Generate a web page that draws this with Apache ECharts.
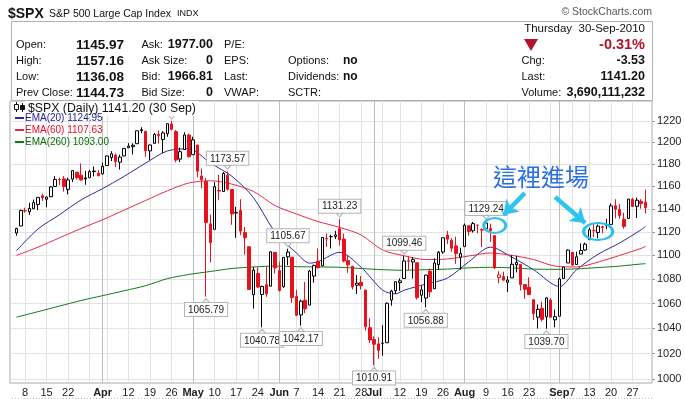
<!DOCTYPE html>
<html>
<head>
<meta charset="utf-8">
<script src="https://cdn.jsdelivr.net/npm/echarts@6/dist/echarts.min.js"></script>
<style>
html, body { margin: 0; padding: 0; background: #fff; }
#chart { width: 685px; height: 399px; }
</style>
</head>
<body>
<div id="chart"></div>
<script>
const chart = echarts.init(document.getElementById("chart"));

const FONT = '"Liberation Sans", Arial, sans-serif';
const RED = "#e8121e";

// trading days per month, 2010
const monthNames = ["Mar", "Apr", "May", "Jun", "Jul", "Aug", "Sep"];
const marDays = [4, 5, 8, 9, 10, 11, 12, 15, 16, 17, 18, 19, 22, 23, 24, 25, 26, 29, 30, 31];
const aprDays = [1, 5, 6, 7, 8, 9, 12, 13, 14, 15, 16, 19, 20, 21, 22, 23, 26, 27, 28, 29, 30];
const mayDays = [3, 4, 5, 6, 7, 10, 11, 12, 13, 14, 17, 18, 19, 20, 21, 24, 25, 26, 27, 28];
const junDays = [1, 2, 3, 4, 7, 8, 9, 10, 11, 14, 15, 16, 17, 18, 21, 22, 23, 24, 25, 28, 29, 30];
const julDays = [1, 2, 6, 7, 8, 9, 12, 13, 14, 15, 16, 19, 20, 21, 22, 23, 26, 27, 28, 29, 30];
const augDays = [2, 3, 4, 5, 6, 9, 10, 11, 12, 13, 16, 17, 18, 19, 20, 23, 24, 25, 26, 27, 30, 31];
const sepDays = [1, 2, 3, 7, 8, 9, 10, 13, 14, 15, 16, 17, 20, 21, 22, 23, 24, 27, 28, 29, 30];

// [open, high, low, close]
const marOhlc = [
	[1119.12, 1123.73, 1116.66, 1122.97], [1125.12, 1139.38, 1125.12, 1138.70], [1138.40, 1141.05, 1136.77, 1138.50],
	[1137.56, 1145.37, 1134.90, 1140.45], [1140.22, 1148.26, 1140.09, 1145.61], [1143.96, 1150.24, 1138.99, 1150.24],
	[1151.71, 1153.41, 1146.97, 1149.99], [1148.53, 1150.98, 1141.45, 1150.51], [1150.83, 1160.28, 1150.35, 1159.46],
	[1159.94, 1169.20, 1159.94, 1166.21], [1166.13, 1167.77, 1161.16, 1165.83], [1166.68, 1169.20, 1155.33, 1159.90],
	[1157.25, 1167.82, 1152.88, 1165.81], [1166.47, 1174.72, 1163.83, 1174.17], [1172.70, 1173.04, 1166.01, 1167.72],
	[1170.03, 1180.69, 1165.09, 1165.73], [1167.58, 1173.93, 1161.48, 1166.59], [1167.71, 1174.85, 1167.71, 1173.22],
	[1173.75, 1177.83, 1168.92, 1173.27], [1171.75, 1174.56, 1169.15, 1169.43]
];
const aprOhlc = [
	[1171.23, 1181.43, 1170.69, 1178.10], [1178.71, 1187.73, 1178.71, 1187.44], [1186.01, 1191.80, 1182.77, 1189.44],
	[1188.23, 1189.60, 1177.25, 1182.45], [1181.75, 1188.55, 1175.12, 1186.44], [1187.47, 1194.66, 1187.15, 1194.37],
	[1194.94, 1199.20, 1194.71, 1196.48], [1195.94, 1199.04, 1188.82, 1197.30], [1198.69, 1210.65, 1198.69, 1210.65],
	[1210.77, 1213.92, 1208.50, 1211.67], [1210.17, 1210.17, 1186.77, 1192.13], [1192.06, 1197.87, 1183.68, 1197.52],
	[1199.04, 1208.58, 1199.04, 1207.17], [1207.16, 1210.99, 1198.85, 1205.94], [1202.52, 1210.27, 1190.19, 1208.67],
	[1207.87, 1217.28, 1205.10, 1217.28], [1217.07, 1219.80, 1211.07, 1212.05], [1209.92, 1211.38, 1181.62, 1183.71],
	[1184.59, 1195.05, 1181.81, 1191.36], [1193.30, 1209.36, 1193.30, 1206.78], [1206.77, 1207.99, 1186.32, 1186.69]
];
const mayOhlc = [
	[1188.58, 1205.13, 1188.58, 1202.26], [1197.50, 1197.50, 1168.12, 1173.60], [1169.24, 1175.95, 1158.15, 1165.90],
	[1164.38, 1167.58, 1065.79, 1128.15], [1127.04, 1135.13, 1094.15, 1110.88], [1122.27, 1163.85, 1122.27, 1159.73],
	[1156.39, 1170.48, 1147.71, 1155.79], [1155.43, 1172.87, 1155.43, 1171.67], [1170.04, 1173.57, 1156.14, 1157.44],
	[1157.19, 1157.19, 1126.14, 1135.68], [1136.52, 1141.88, 1114.96, 1136.94], [1138.78, 1148.66, 1117.20, 1120.80],
	[1119.57, 1124.27, 1100.66, 1115.05], [1107.34, 1107.34, 1071.58, 1071.59], [1067.26, 1090.16, 1055.90, 1087.69],
	[1084.78, 1089.95, 1072.70, 1073.65], [1067.42, 1074.75, 1040.78, 1074.03], [1075.51, 1090.75, 1065.59, 1067.95],
	[1074.27, 1103.52, 1074.27, 1103.06], [1102.59, 1102.59, 1084.78, 1089.41]
];
const junOhlc = [
	[1087.30, 1094.77, 1069.89, 1070.71], [1073.89, 1098.42, 1072.94, 1098.38], [1098.82, 1105.67, 1091.81, 1102.83],
	[1098.43, 1098.43, 1060.50, 1064.88], [1065.84, 1071.36, 1049.86, 1050.47], [1050.81, 1063.15, 1042.17, 1062.00],
	[1062.75, 1077.74, 1052.25, 1055.69], [1058.77, 1087.85, 1058.77, 1086.84], [1082.65, 1092.25, 1077.12, 1091.60],
	[1095.00, 1105.91, 1089.03, 1089.63], [1091.21, 1115.59, 1091.21, 1115.23], [1114.02, 1118.74, 1107.13, 1114.61],
	[1115.98, 1117.72, 1105.87, 1116.04], [1116.16, 1121.01, 1113.93, 1117.51], [1122.79, 1131.23, 1108.24, 1113.20],
	[1113.90, 1118.50, 1094.18, 1095.31], [1095.57, 1099.64, 1085.31, 1092.04], [1090.93, 1090.93, 1071.60, 1073.69],
	[1075.10, 1083.56, 1067.89, 1076.76], [1077.50, 1082.60, 1071.45, 1074.57], [1071.10, 1071.10, 1038.38, 1041.24],
	[1040.56, 1048.08, 1028.33, 1030.71]
];
const julOhlc = [
	[1031.10, 1033.58, 1010.91, 1027.37], [1027.65, 1032.95, 1015.93, 1022.58], [1028.09, 1042.50, 1018.35, 1028.06],
	[1028.54, 1060.89, 1028.54, 1060.27], [1062.92, 1071.25, 1058.24, 1070.25], [1070.50, 1078.16, 1068.10, 1077.96],
	[1077.23, 1080.78, 1070.45, 1078.75], [1080.65, 1099.46, 1080.65, 1095.34], [1095.61, 1099.08, 1087.68, 1095.17],
	[1094.46, 1098.66, 1080.53, 1096.48], [1093.85, 1093.85, 1063.32, 1064.88], [1066.85, 1074.70, 1061.11, 1071.25],
	[1064.53, 1083.94, 1056.88, 1083.48], [1086.67, 1088.96, 1065.25, 1069.59], [1072.14, 1097.50, 1072.14, 1093.67],
	[1092.17, 1103.73, 1087.88, 1102.66], [1102.89, 1115.01, 1101.30, 1115.01], [1117.36, 1120.95, 1109.78, 1113.84],
	[1112.84, 1114.66, 1103.11, 1106.13], [1108.07, 1115.90, 1092.82, 1101.53], [1098.44, 1106.44, 1088.01, 1101.60]
];
const augOhlc = [
	[1107.53, 1127.30, 1107.53, 1125.86], [1125.34, 1125.44, 1116.76, 1120.46], [1121.06, 1128.75, 1119.46, 1127.24],
	[1125.78, 1126.56, 1118.81, 1125.81], [1122.07, 1123.06, 1107.17, 1121.64], [1122.80, 1129.24, 1120.91, 1127.79],
	[1122.92, 1127.16, 1111.58, 1121.06], [1116.89, 1116.89, 1088.55, 1089.47], [1081.48, 1086.72, 1076.69, 1083.61],
	[1082.22, 1086.25, 1079.00, 1079.25], [1077.49, 1082.62, 1069.49, 1079.38], [1081.16, 1100.14, 1081.16, 1092.54],
	[1092.08, 1099.77, 1085.76, 1094.16], [1092.44, 1092.44, 1070.66, 1075.63], [1075.63, 1075.63, 1063.91, 1071.69],
	[1073.36, 1081.58, 1067.08, 1067.36], [1063.20, 1063.20, 1046.68, 1051.87], [1048.98, 1059.38, 1039.83, 1055.33],
	[1056.28, 1061.45, 1045.40, 1047.22], [1049.27, 1065.21, 1039.70, 1064.59], [1062.90, 1064.40, 1048.79, 1048.92],
	[1046.88, 1055.14, 1040.88, 1049.33]
];
const sepOhlc = [
	[1049.72, 1081.30, 1049.72, 1080.29], [1080.66, 1090.10, 1080.39, 1090.10], [1093.61, 1105.10, 1093.61, 1104.51],
	[1102.60, 1102.60, 1091.15, 1091.84], [1092.36, 1103.26, 1092.36, 1098.87], [1101.15, 1110.27, 1101.15, 1104.18],
	[1104.57, 1110.88, 1103.92, 1109.55], [1113.38, 1123.87, 1113.38, 1121.90], [1121.16, 1127.36, 1115.58, 1121.10],
	[1119.43, 1126.46, 1114.63, 1125.07], [1123.89, 1125.44, 1118.88, 1124.66], [1126.39, 1131.47, 1122.43, 1125.59],
	[1126.57, 1144.86, 1126.57, 1142.71], [1142.82, 1148.59, 1131.87, 1139.78], [1139.49, 1144.38, 1131.58, 1134.28],
	[1131.10, 1136.77, 1122.79, 1124.83], [1131.69, 1148.90, 1131.69, 1148.67], [1148.64, 1149.92, 1142.00, 1142.16],
	[1142.31, 1150.00, 1132.09, 1147.70], [1146.75, 1148.63, 1140.26, 1144.73], [1145.97, 1157.16, 1136.08, 1141.20]
];

const ema20Idx = [0, 5, 10, 15, 20, 25, 30, 35, 40, 45, 50, 55, 60, 65, 68, 70, 75, 80, 85, 88, 90, 95, 100, 105, 110, 115, 120, 126, 130, 135, 140, 145, 146];
const ema20Val = [1104, 1122.6, 1135, 1148, 1158, 1169, 1181, 1192, 1194, 1181, 1169, 1150, 1120, 1102, 1093.5, 1094.7, 1102.6, 1090, 1071, 1068, 1071, 1076, 1081, 1094.7, 1107, 1098.5, 1088, 1074, 1088, 1101, 1110.6, 1122, 1124.95];
const emaIdx = [0, 5, 10, 15, 20, 25, 30, 35, 40, 45, 50, 55, 60, 65, 70, 75, 80, 85, 90, 95, 100, 105, 110, 115, 120, 125, 130, 135, 140, 145, 146];
const ema60Val = [1100, 1107, 1115, 1123, 1130.6, 1139, 1147.5, 1156, 1163, 1165, 1162, 1155.5, 1143, 1135.6, 1129, 1124, 1117.4, 1104.5, 1099.7, 1096.5, 1097, 1099.5, 1102, 1100, 1096.5, 1091, 1090.3, 1094.4, 1100, 1106, 1107.63];
const ema260Val = [1049, 1053.4, 1058, 1062.5, 1066.5, 1070.5, 1074.7, 1080.5, 1084, 1086.5, 1089, 1090.3, 1091, 1090.5, 1090.3, 1090, 1089, 1088, 1087.5, 1088, 1088.5, 1089.5, 1090, 1089.5, 1088.5, 1088.3, 1088.7, 1089.8, 1091, 1092.8, 1093.00];

// axis ticks
const yTicks = [1000, 1020, 1040, 1060, 1080, 1100, 1120, 1140, 1160, 1180, 1200, 1220];
const monthTickDates = ["Apr 1", "May 3", "Jun 1", "Jul 1", "Aug 2", "Sep 1"];
const weekTickDates = ["Mar 8", "Mar 15", "Mar 22", "Mar 29", "Apr 5", "Apr 12", "Apr 19", "Apr 26", "May 10", "May 17", "May 24",
	"Jun 7", "Jun 14", "Jun 21", "Jun 28", "Jul 6", "Jul 12", "Jul 19", "Jul 26", "Aug 9", "Aug 16", "Aug 23", "Aug 30",
	"Sep 7", "Sep 13", "Sep 20", "Sep 27"];
const hiddenTickLabels = ["Mar 29", "Apr 5", "Jul 6", "Aug 30"];

// price callouts
const swingHighs = [["Apr 26", 1219.80], ["May 13", 1173.57], ["Jun 3", 1105.67], ["Jun 21", 1131.23], ["Jul 13", 1099.46], ["Aug 9", 1129.24]];
const swingLows = [["May 6", 1065.79], ["May 25", 1040.78], ["Jun 8", 1042.17], ["Jul 1", 1010.91], ["Jul 20", 1056.88], ["Aug 27", 1039.70]];

// hand-drawn notes
const noteText = "這裡進場";
const circleAt = [["Aug 11", 1125.6], ["Sep 15", 1120.4]];
const arrowFrom = [["Aug 20", 1154], ["Aug 31", 1150.5]];
const arrowTo = [["Aug 13", 1134.7], ["Sep 10", 1127.8]];

// quote header
const col1Labels = ["Open:", "High:", "Low:", "Prev Close:"];
const col1Values = ["1145.97", "1157.16", "1136.08", "1144.73"];
const col2Labels = ["Ask:", "Ask Size:", "Bid:", "Bid Size:"];
const col2Values = ["1977.00", "0", "1966.81", "0"];
const col3Labels = ["P/E:", "EPS:", "Last:", "VWAP:"];
const col4Labels = ["", "Options:", "Dividends:", "SCTR:"];
const col4Values = ["", "no", "no", ""];
const rightLabels = ["Chg:", "Last:", "Volume:"];
const rightValues = ["-3.53", "1141.20", "3,690,111,232"];

const dates = [];
const ohlc = [];
[marDays, aprDays, mayDays, junDays, julDays, augDays, sepDays].forEach((days, k) => {
	const rows = [marOhlc, aprOhlc, mayOhlc, junOhlc, julOhlc, augOhlc, sepOhlc][k];
	days.forEach((d, j) => {
		dates.push(monthNames[k] + " " + d);
		ohlc.push(rows[j]);
	});
});
const categories = ["padL"].concat(dates, ["padR"]);

// StockCharts style: colour from previous close, hollow when close > open
const candleData = ohlc.map(([o, h, l, c], i) => {
	const prev = i ? ohlc[i - 1][3] : o;
	const edge = c >= prev ? "#000" : RED;
	const fill = c > o ? "#fff" : edge;
	return {
		value: [dates[i], o, c, l, h],
		itemStyle: { color: fill, color0: fill, borderColor: edge, borderColor0: edge }
	};
});

const lineData = (idx, vals) => idx.map((k, j) => [dates[k], vals[j]]);

const calloutLabel = {
	show: true,
	formatter: p => p.value.toFixed(2),
	color: "#222",
	fontSize: 10,
	fontFamily: FONT,
	backgroundColor: "#fff",
	borderColor: "#b4b4b4",
	borderWidth: 1,
	padding: [2, 3, 1, 3],
	distance: 0
};
const markData = [];
swingHighs.forEach(([d, v]) => markData.push({
	coord: [d, v], value: v,
	symbol: "path://M0,0L10,0L5,6Z", symbolSize: [7, 4], symbolOffset: [0, -4],
	itemStyle: { color: "#fff", borderColor: "#b4b4b4", borderWidth: 1 },
	label: Object.assign({}, calloutLabel, { position: "top" })
}));
swingLows.forEach(([d, v]) => markData.push({
	coord: [d, v], value: v,
	symbol: "path://M0,6L10,6L5,0Z", symbolSize: [7, 4], symbolOffset: [0, 4],
	itemStyle: { color: "#fff", borderColor: "#b4b4b4", borderWidth: 1 },
	label: Object.assign({}, calloutLabel, { position: "bottom" })
}));
circleAt.forEach(([d, v], i) => markData.push({
	coord: [d, v], value: v,
	symbol: "circle", symbolSize: i ? [29, 17] : [22, 15],
	itemStyle: { color: "rgba(0,0,0,0)", borderColor: "#2ebfee", borderWidth: 2.5 },
	label: { show: false }
}));

function txt(x, y, text, size, weight, color, align) {
	return {
		type: "text", x: x, y: y, z: 20,
		style: {
			text: text, fontSize: size, fontWeight: weight || "normal", fontFamily: FONT,
			fill: color || "#111", align: align || "left", verticalAlign: "middle"
		}
	};
}

const rowY = [45, 61, 77, 93];
const graphics = [
	{ type: "rect", z: 1, shape: { x: 11.5, y: 21.5, width: 641, height: 79 }, style: { fill: "none", stroke: "#b0b0b0", lineWidth: 1 } },
	txt(8, 14, "$SPX", 14, "bold", "#111"),
	txt(49, 14, "S&P 500 Large Cap Index", 10.5, "normal", "#111"),
	txt(177, 14, "INDX", 9, "normal", "#111"),
	txt(652, 12, "© StockCharts.com", 10.5, "normal", "#555", "right"),
	txt(645, 29, "Thursday  30-Sep-2010", 11.5, "normal", "#111", "right"),
	txt(645, 45, "-0.31%", 14.5, "bold", "#b5122b", "right"),
	{ type: "polygon", z: 20, shape: { points: [[524, 39], [538, 39], [531, 51]] }, style: { fill: "#b5122b" } },
	{ type: "line", z: 1, shape: { x1: 12, y1: 398.5, x2: 652, y2: 398.5 }, style: { stroke: "#bbb", lineDash: [1, 2] } },
	// small candle glyph in front of the chart title
	{ type: "line", z: 21, shape: { x1: 16.5, y1: 102, x2: 16.5, y2: 112 }, style: { stroke: "#111" } },
	{ type: "rect", z: 21, shape: { x: 14.5, y: 104.5, width: 4, height: 5 }, style: { fill: "#fff", stroke: "#111" } },
	{ type: "line", z: 21, shape: { x1: 22.5, y1: 103, x2: 22.5, y2: 112 }, style: { stroke: "#111" } },
	{ type: "rect", z: 21, shape: { x: 20.5, y: 105.5, width: 4, height: 4 }, style: { fill: "#111", stroke: "#111" } },
	{
		type: "text", x: 493, y: 177, z: 20,
		style: { text: noteText, fontSize: 24, fontFamily: '"Noto Sans CJK TC", sans-serif', fill: "#2a6fe3", verticalAlign: "middle" }
	}
];
rowY.forEach((y, i) => {
	graphics.push(txt(16, y, col1Labels[i], 11));
	graphics.push(txt(124, y, col1Values[i], 13.5, "bold", "#111", "right"));
	graphics.push(txt(141.5, y, col2Labels[i], 11));
	graphics.push(txt(213, y, col2Values[i], 12.5, "bold", "#111", "right"));
	graphics.push(txt(224, y, col3Labels[i], 11));
	if (col4Labels[i]) graphics.push(txt(288, y, col4Labels[i], 11));
	if (col4Values[i]) graphics.push(txt(343, y, col4Values[i], 12, "bold"));
	if (i > 0) {
		graphics.push(txt(521.5, y, rightLabels[i - 1], 11));
		graphics.push(txt(645, y, rightValues[i - 1], 12.5, "bold", "#111", "right"));
	}
});

const isMonth = v => monthTickDates.indexOf(v) >= 0;
const isWeek = v => weekTickDates.indexOf(v) >= 0;

option = {
	animation: false,
	title: {
		text: "$SPX (Daily) 1141.20 (30 Sep)",
		left: 25,
		top: 101,
		padding: [2, 3, 1, 3],
		backgroundColor: "#fff",
		z: 10,
		textStyle: { fontSize: 12.3, fontWeight: "normal", color: "#111", fontFamily: FONT }
	},
	legend: {
		orient: "vertical",
		left: 15,
		top: 112,
		padding: 0,
		itemGap: 0,
		itemWidth: 9,
		itemHeight: 2,
		icon: "rect",
		z: 10,
		textStyle: { fontSize: 10, fontFamily: FONT, lineHeight: 12, padding: [0, 0, 0, -4] },
		formatter: name => name + " " + { "EMA(20)": ema20Val, "EMA(60)": ema60Val, "EMA(260)": ema260Val }[name].slice(-1)[0].toFixed(2),
		data: [
			{ name: "EMA(20)", textStyle: { color: "#1c1c96" } },
			{ name: "EMA(60)", textStyle: { color: "#e0102a" } },
			{ name: "EMA(260)", textStyle: { color: "#0a6e0a" } }
		]
	},
	grid: {
		left: 10, right: 33, top: 101, bottom: 16,
		show: true, borderColor: "#aaa", borderWidth: 1
	},
	xAxis: [{
		type: "category",
		data: categories,
		boundaryGap: true,
		axisLine: { show: false },
		axisTick: { show: false },
		axisLabel: {
			interval: (i, v) => isMonth(v) || (isWeek(v) && hiddenTickLabels.indexOf(v) < 0),
			formatter: v => isMonth(v) ? "{m|" + v.split(" ")[0] + "}" : v.split(" ")[1],
			fontSize: 11,
			fontFamily: FONT,
			color: "#222",
			margin: 4,
			rich: { m: { fontSize: 11, fontWeight: "bold", fontFamily: FONT, color: "#222" } }
		},
		splitLine: {
			show: true,
			alignWithLabel: true,
			interval: (i, v) => isWeek(v),
			lineStyle: { color: "#e2e2e2" }
		}
	}, {
		type: "category",
		data: categories,
		boundaryGap: true,
		position: "bottom",
		axisLine: { show: false },
		axisTick: { show: false },
		axisLabel: { show: false },
		splitLine: {
			show: true,
			alignWithLabel: true,
			interval: (i, v) => isMonth(v),
			lineStyle: { color: "#bdbdbd" }
		}
	}],
	yAxis: {
		type: "log",
		logBase: 10,
		position: "right",
		min: 997.2,
		max: 1238.7,
		axisLine: { show: false },
		axisTick: { show: true, length: 3, customValues: yTicks, lineStyle: { color: "#999" } },
		axisLabel: { customValues: yTicks, formatter: v => String(Math.round(v)), fontSize: 11, fontFamily: FONT, color: "#222", margin: 5 },
		splitLine: { show: true, lineStyle: { color: "#e2e2e2" } }
	},
	series: [{
		name: "$SPX",
		type: "candlestick",
		barWidth: 3,
		encode: { x: 0, y: [1, 2, 3, 4] },
		data: candleData,
		z: 3,
		markPoint: { data: markData, z: 4 },
		markLine: {
			silent: true,
			symbol: ["none", "arrow"],
			symbolSize: [14, 14],
			label: { show: false },
			lineStyle: { color: "#2ec4ef", width: 4.5, type: "solid" },
			data: arrowFrom.map((p, i) => [{ coord: p }, { coord: arrowTo[i] }])
		}
	}, {
		name: "EMA(20)",
		type: "line",
		data: lineData(ema20Idx, ema20Val),
		smooth: 0.3,
		showSymbol: false,
		color: "#2a2a9e",
		lineStyle: { width: 1 },
		z: 2
	}, {
		name: "EMA(60)",
		type: "line",
		data: lineData(emaIdx, ema60Val),
		smooth: 0.3,
		showSymbol: false,
		color: "#e8284a",
		lineStyle: { width: 1 },
		z: 2
	}, {
		name: "EMA(260)",
		type: "line",
		data: lineData(emaIdx, ema260Val),
		smooth: 0.3,
		showSymbol: false,
		color: "#137a13",
		lineStyle: { width: 1 },
		z: 2
	}],
	graphic: graphics
};

chart.setOption(option);
window.onresize = chart.resize;
</script>
</body>
</html>
